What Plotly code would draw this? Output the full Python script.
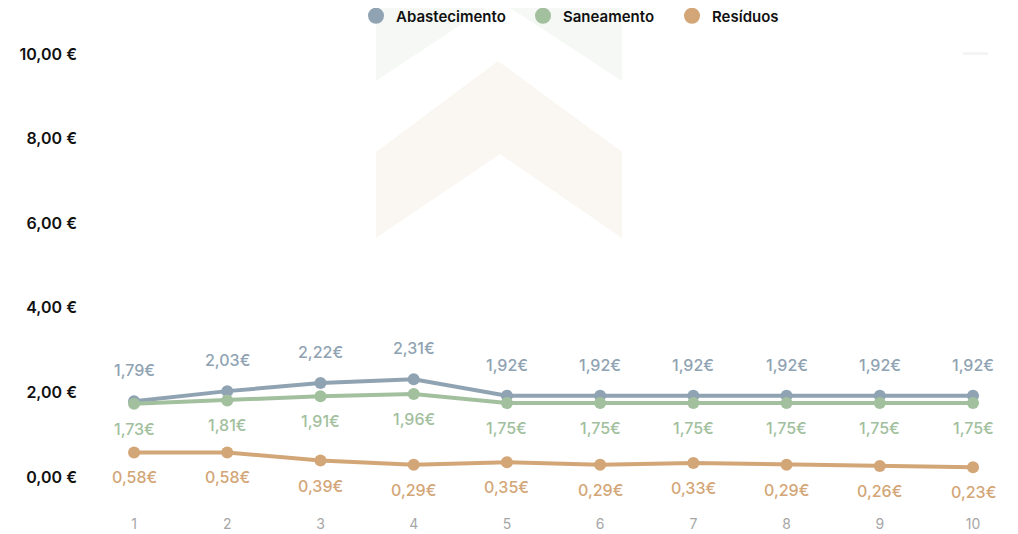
import plotly.graph_objects as go

categories = [1, 2, 3, 4, 5, 6, 7, 8, 9, 10]
abastecimento = [1.79, 2.03, 2.22, 2.31, 1.92, 1.92, 1.92, 1.92, 1.92, 1.92]
saneamento = [1.73, 1.81, 1.91, 1.96, 1.75, 1.75, 1.75, 1.75, 1.75, 1.75]
residuos = [0.58, 0.58, 0.39, 0.29, 0.35, 0.29, 0.33, 0.29, 0.26, 0.23]
y_ticks = [0, 2, 4, 6, 8, 10]
y_tick_labels = ["0,00 €", "2,00 €", "4,00 €", "6,00 €", "8,00 €", "10,00 €"]

series = [
    ("Abastecimento", abastecimento, "#8fa3b3", 31, "legend", 356),
    ("Saneamento", saneamento, "#a2c09e", -25, "legend2", 523),
    ("Resíduos", residuos, "#d3a677", -25, "legend3", 672),
]

FONT = "Inter"
OFF = 8  # page body margin
W, H = 1018 - OFF, 534 - OFF
fig = go.Figure()

# plot area in page pixels: x 100..998, y 40..510
L, R, T, B = 100, 998, 40, 510
def px(x):
    return (x - L) / (R - L)
def py(y):
    return (B - y) / (B - T)

def path(points):
    return "M " + " L ".join(f"{px(x):.4f},{py(y):.4f}" for x, y in points) + " Z"

shapes = [
    dict(type="path", xref="paper", yref="paper", layer="below",
         path=path([(376, -10), (376, 81), (498, 0), (622, 81), (622, -10)]),
         fillcolor="#f5f8f5", line=dict(width=0)),
    dict(type="path", xref="paper", yref="paper", layer="below",
         path=path([(376, 152), (498, 61), (622, 152), (622, 238), (500, 154), (376, 238)]),
         fillcolor="#faf7f2", line=dict(width=0)),
    dict(type="rect", xref="paper", yref="paper", layer="below",
         x0=px(963), x1=px(988), y0=py(55), y1=py(52),
         fillcolor="#f4f4f4", line=dict(width=0)),
]

annotations = []
legends = {}
for name, vals, color, shift, leg, lx in series:
    fig.add_trace(go.Scatter(
        x=categories, y=vals, mode="lines+markers", name=name,
        line=dict(color=color, width=4),
        marker=dict(color=color, size=12),
        showlegend=False, hoverinfo="skip"))
    fig.add_trace(go.Scatter(
        x=[None], y=[None], mode="markers", name=name, legend=leg,
        marker=dict(color=color, size=16), showlegend=True))
    legends[leg] = dict(orientation="h", x=px(lx), xanchor="left", y=py(16), yanchor="middle",
                        font=dict(family=FONT, size=15, color="#111111", weight=600),
                        itemwidth=30, bgcolor="rgba(0,0,0,0)")
    for xv, yv in zip(categories, vals):
        annotations.append(dict(
            x=xv, y=yv, xref="x", yref="y", showarrow=False,
            text=f"{yv:.2f}€".replace(".", ","), yshift=shift,
            font=dict(family=FONT, size=16, color=color, weight=500)))

fig.update_layout(
    width=W, height=H,
    margin=dict(l=L - OFF, r=W - (R - OFF), t=T - OFF, b=H - (B - OFF), autoexpand=False),
    plot_bgcolor="rgba(0,0,0,0)", paper_bgcolor="white",
    shapes=shapes, annotations=annotations,
    font=dict(family=FONT, size=14, color="#111111"),
    xaxis=dict(range=[0.635, 10.268], tickmode="array", tickvals=categories,
               ticktext=[str(c) for c in categories], showgrid=False, zeroline=False,
               showline=False, tickfont=dict(family=FONT, size=14, color="#a6a6a6"),
               ticklabelstandoff=4),
    yaxis=dict(range=[-0.78, 10.33], tickmode="array", tickvals=y_ticks,
               ticktext=y_tick_labels, showgrid=False, zeroline=False, showline=False,
               tickfont=dict(family=FONT, size=16, color="#111111", weight=600),
               ticklabelstandoff=22),
    **legends,
)

fig.write_html("out.html")
